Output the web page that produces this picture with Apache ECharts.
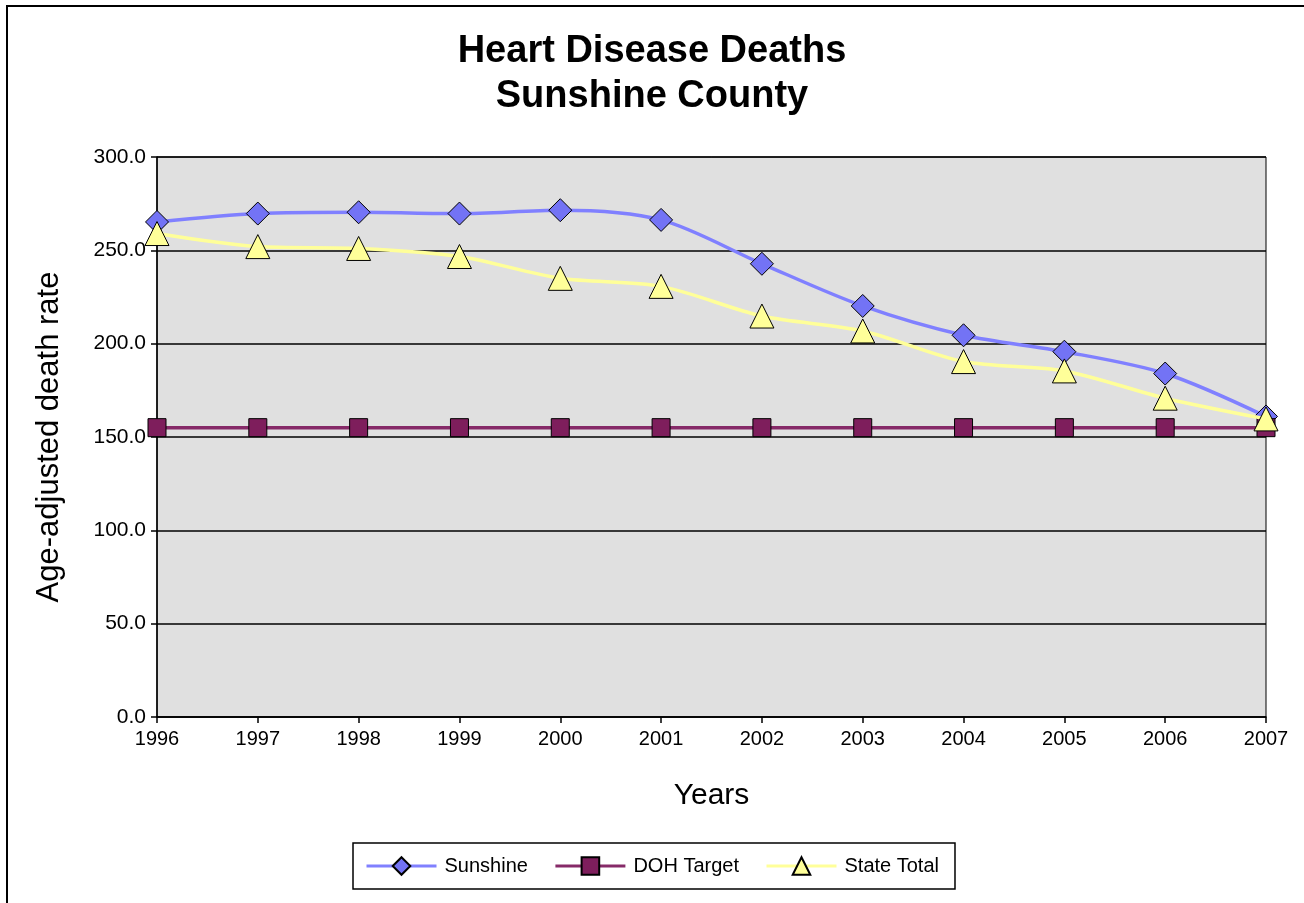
<!DOCTYPE html>
<html>
<head>
<meta charset="utf-8">
<script src="https://cdn.jsdelivr.net/npm/echarts@6/dist/echarts.min.js"></script>
<style>
html,body{margin:0;padding:0;background:#fff;}
#chart{width:1304px;height:903px;}
</style>
</head>
<body>
<div id="chart"></div>
<script>
const years = ['1996','1997','1998','1999','2000','2001','2002','2003','2004','2005','2006','2007'];
const sunshine = [265.2, 269.7, 270.4, 269.7, 271.5, 266.3, 242.8, 220.2, 204.5, 195.7, 184.0, 161.0];
const dohTarget = [155, 155, 155, 155, 155, 155, 155, 155, 155, 155, 155, 155];
const stateTotal = [259.0, 252.0, 251.0, 246.7, 235.0, 230.7, 214.8, 206.8, 190.4, 185.4, 170.8, 159.7];
const titleLines = ['Heart Disease Deaths', 'Sunshine County'];
const yAxisName = 'Age-adjusted death rate';
const xAxisName = 'Years';

const FONT = '"Liberation Sans", Arial, sans-serif';
const chart = echarts.init(document.getElementById('chart'));
chart.setOption({
  backgroundColor: '#ffffff',
  animation: false,
  title: {
    text: titleLines.join('\n'),
    left: 'center',
    top: 29,
    padding: 0,
    textStyle: { fontFamily: FONT, fontSize: 38, fontWeight: 'bold', color: '#000', lineHeight: 45 }
  },
  graphic: [{
    type: 'rect',
    shape: { x: 7, y: 6, width: 1400, height: 1000 },
    style: { fill: 'none', stroke: '#000', lineWidth: 2 },
    silent: true
  }],
  grid: {
    left: 157, right: 38, top: 157, bottom: 186,
    show: true, backgroundColor: '#E0E0E0', borderColor: '#000', borderWidth: 1
  },
  legend: {
    data: ['Sunshine', 'DOH Target', 'State Total'],
    bottom: 14,
    left: 'center',
    itemWidth: 70,
    itemHeight: 22,
    itemGap: 26,
    padding: [13, 16, 13, 12],
    borderColor: '#000',
    borderWidth: 1.5,
    lineStyle: { width: 3 },
    textStyle: { fontFamily: FONT, fontSize: 20, color: '#000', padding: [0, 0, 0, 3] }
  },
  xAxis: {
    type: 'category',
    data: years,
    boundaryGap: false,
    name: xAxisName,
    nameLocation: 'middle',
    nameGap: 64,
    nameTextStyle: { fontFamily: FONT, fontSize: 30, color: '#000' },
    axisLine: { lineStyle: { color: '#000', width: 1.5 } },
    axisTick: { show: true, length: 6, lineStyle: { color: '#000', width: 1.5 } },
    axisLabel: { fontFamily: FONT, fontSize: 20, color: '#000', margin: 12 },
    splitLine: { show: false }
  },
  yAxis: {
    type: 'value',
    min: 0, max: 300, interval: 50,
    name: yAxisName,
    nameLocation: 'middle',
    nameGap: 92,
    nameTextStyle: { fontFamily: FONT, fontSize: 31, color: '#000' },
    axisLine: { show: true, lineStyle: { color: '#000', width: 1.5 } },
    axisTick: { show: true, length: 6, lineStyle: { color: '#000', width: 1.5 } },
    axisLabel: { fontFamily: FONT, fontSize: 21, color: '#000', margin: 11, formatter: v => v.toFixed(1) },
    splitLine: { show: true, lineStyle: { color: '#000', width: 1.5 } }
  },
  series: [{
    name: 'Sunshine',
    type: 'line',
    data: sunshine,
    smooth: 0.3,
    symbol: 'diamond',
    symbolSize: 23,
    lineStyle: { color: '#8080FF', width: 3.5 },
    itemStyle: { color: '#7373F5', borderColor: '#000', borderWidth: 1 },
    z: 2
  }, {
    name: 'DOH Target',
    type: 'line',
    data: dohTarget,
    symbol: 'rect',
    symbolSize: 18,
    lineStyle: { color: '#862A68', width: 3.5 },
    itemStyle: { color: '#7E1E5C', borderColor: '#000', borderWidth: 1 },
    z: 3
  }, {
    name: 'State Total',
    type: 'line',
    data: stateTotal,
    smooth: 0.3,
    symbol: 'triangle',
    symbolSize: [24, 24],
    lineStyle: { color: '#FFFF99', width: 3.5 },
    itemStyle: { color: '#FFFF99', borderColor: '#000', borderWidth: 1 },
    z: 4
  }]
});
</script>
</body>
</html>
